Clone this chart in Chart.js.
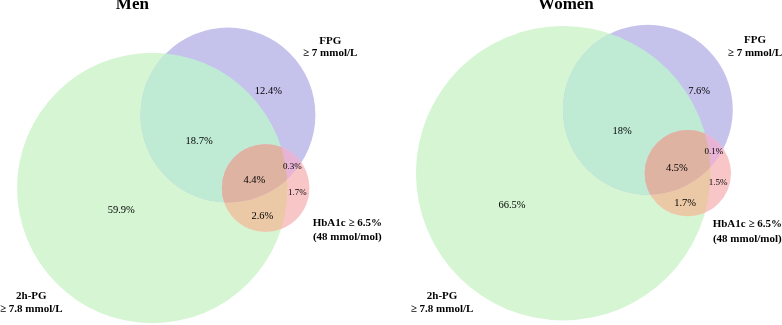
<!DOCTYPE html>
<html><head><meta charset="utf-8">
<script src="https://cdn.jsdelivr.net/npm/chart.js@4/dist/chart.umd.min.js"></script>
<style>
html,body{margin:0;padding:0;background:#fff;overflow:hidden;}
#wrap{display:flex;width:782px;height:325px;}
.panel{position:relative;width:391px;height:325px;}
canvas{display:block;}
</style></head><body>
<div id="wrap"><div class="panel"><canvas id="men" width="391" height="325"></canvas></div><div class="panel"><canvas id="women" width="391" height="325"></canvas></div></div>
<script>
// ---------------- DATA ----------------
const panelTitles = ['Men', 'Women'];
const setKeys = ['G', 'F', 'H']; // 2h-PG, FPG, HbA1c
const setLabelLines = [['2h-PG', '\u2265 7.8 mmol/L'], ['FPG', '\u2265 7 mmol/L'], ['HbA1c \u2265 6.5%', '(48 mmol/mol)']];
const regionKeys = ['G', 'F', 'H', 'GF', 'GH', 'FH', 'GFH'];
const menRegions = [59.9, 12.4, 1.7, 18.7, 2.6, 0.3, 4.4];
const womenRegions = [66.5, 7.6, 1.5, 18, 1.7, 0.1, 4.5];

// ---------------- LAYOUT / STYLE ----------------
const regionColors = {G: '#d5f5d3', F: '#c5c3ec', H: '#f9c6c8', GF: '#bfebd5', GH: '#ecc9a6', FH: '#e8b4d6', GFH: '#deb3a2'};
const smallRegions = ['H', 'FH'];
const panels = [
  { id: 'men', regions: menRegions, title: panelTitles[0], pxPerUnit: 25.9, origin: [152.3, 188],
    titlePos: [-0.77, 7.07],
    regionLabelPos: {G: [-1.20, -0.85], F: [4.48, 3.75], H: [5.60, -0.19], GF: [1.81, 1.81], GH: [4.25, -1.08], FH: [5.41, 0.81], GFH: [3.94, 0.31]},
    setLabelPos: [[-4.67, -4.17, -4.67], [6.87, 5.68, 5.21], [7.53, -1.35, -1.89]] },
  { id: 'women', regions: womenRegions, title: panelTitles[1], pxPerUnit: 27.4, origin: [172.2, 173.2],
    titlePos: [0.10, 6.14],
    regionLabelPos: {G: [-1.87, -1.16], F: [4.96, 3.00], H: [5.65, -0.36], GF: [2.15, 1.54], GH: [4.45, -1.09], FH: [5.50, 0.77], GFH: [4.15, 0.19]},
    setLabelPos: [[-4.42, -4.48, -4.96], [7.0, 4.86, 4.39], [6.72, -1.86, -2.41]] }
];
const W = 391, H = 325;
const FONT = '"Liberation Serif", "Times New Roman", serif';

// ---------------- GEOMETRY FROM DATA ----------------
function setTotal(regions, key) {
  return regionKeys.reduce((s, k, i) => s + (k.includes(key) ? regions[i] : 0), 0);
}
function pairTotal(regions, a, b) {
  return regionKeys.reduce((s, k, i) => s + (k.includes(a) && k.includes(b) ? regions[i] : 0), 0);
}
function lensArea(r1, r2, d) {
  if (d >= r1 + r2) return 0;
  if (d <= Math.abs(r1 - r2)) return Math.PI * Math.min(r1, r2) ** 2;
  const a1 = Math.acos((d * d + r1 * r1 - r2 * r2) / (2 * d * r1));
  const a2 = Math.acos((d * d + r2 * r2 - r1 * r1) / (2 * d * r2));
  const k = Math.sqrt((-d + r1 + r2) * (d + r1 - r2) * (d - r1 + r2) * (d + r1 + r2));
  return r1 * r1 * a1 + r2 * r2 * a2 - 0.5 * k;
}
function solveDistance(r1, r2, area) {
  let lo = Math.abs(r1 - r2), hi = r1 + r2;
  for (let i = 0; i < 80; i++) {
    const mid = (lo + hi) / 2;
    if (lensArea(r1, r2, mid) > area) lo = mid; else hi = mid;
  }
  return (lo + hi) / 2;
}
function layout(regions) {
  const r = setKeys.map(k => Math.sqrt(setTotal(regions, k) / Math.PI));
  const dGF = solveDistance(r[0], r[1], pairTotal(regions, 'G', 'F'));
  const dGH = solveDistance(r[0], r[2], pairTotal(regions, 'G', 'H'));
  const dFH = solveDistance(r[1], r[2], pairTotal(regions, 'F', 'H'));
  const fx = (dGF * dGF - dFH * dFH + dGH * dGH) / (2 * dGH);
  const fy = Math.sqrt(Math.max(0, dGF * dGF - fx * fx));
  return { centers: [[0, 0], [fx, fy], [dGH, 0]], radii: r };
}

// ---------------- PLUGINS ----------------
const overlapPlugin = {
  id: 'overlaps',
  afterDatasetsDraw(chart) {
    const el = chart.getDatasetMeta(0).data;
    const ctx = chart.ctx;
    const circ = i => { ctx.beginPath(); ctx.arc(el[i].x, el[i].y, el[i].options.radius, 0, Math.PI * 2); };
    const fillIntersection = (idx, color) => {
      ctx.save();
      idx.forEach(i => { circ(i); ctx.clip(); });
      ctx.fillStyle = color;
      ctx.fillRect(0, 0, chart.width, chart.height);
      ctx.restore();
    };
    fillIntersection([0, 1], regionColors.GF);
    fillIntersection([0, 2], regionColors.GH);
    fillIntersection([1, 2], regionColors.FH);
    fillIntersection([0, 1, 2], regionColors.GFH);
  }
};
const textPlugin = {
  id: 'venntext',
  afterDraw(chart) {
    const p = chart.options.plugins.venntext;
    const xs = chart.scales.x, ys = chart.scales.y;
    const ctx = chart.ctx;
    const X = v => xs.getPixelForValue(v), Y = v => ys.getPixelForValue(v);
    ctx.save();
    ctx.fillStyle = '#000';
    ctx.textAlign = 'center';
    ctx.textBaseline = 'middle';
    ctx.font = 'bold 17px ' + FONT;
    ctx.fillText(p.title, X(p.titlePos[0]), Y(p.titlePos[1]));
    ctx.font = 'bold 11px ' + FONT;
    p.setLabelPos.forEach((pos, i) => {
      ctx.fillText(setLabelLines[i][0], X(pos[0]), Y(pos[1]));
      ctx.fillText(setLabelLines[i][1], X(pos[0]), Y(pos[2]));
    });
    regionKeys.forEach((k, i) => {
      ctx.font = (smallRegions.includes(k) ? '9px ' : '10.5px ') + FONT;
      const pos = p.regionLabelPos[k];
      ctx.fillText(p.regions[i] + '%', X(pos[0]), Y(pos[1]));
    });
    ctx.restore();
  }
};

// ---------------- CHARTS ----------------
panels.forEach(panel => {
  const geo = layout(panel.regions);
  const s = panel.pxPerUnit, ox = panel.origin[0], oy = panel.origin[1];
  new Chart(document.getElementById(panel.id), {
    type: 'scatter',
    data: {
      datasets: [{
        data: geo.centers.map(c => ({ x: c[0], y: c[1] })),
        showLine: false,
        pointBackgroundColor: setKeys.map(k => regionColors[k]),
        pointBorderWidth: 0,
        clip: false,
        pointRadius: ctx => {
          const xs = ctx.chart.scales.x;
          const v = Math.abs(xs.getPixelForValue(geo.radii[ctx.dataIndex]) - xs.getPixelForValue(0));
          return isFinite(v) ? v : 0;
        }
      }]
    },
    options: {
      responsive: false,
      animation: false,
      events: [],
      layout: { padding: 0, autoPadding: false },
      scales: {
        x: { type: 'linear', display: false, min: -ox / s, max: (W - ox) / s },
        y: { type: 'linear', display: false, min: (oy - H) / s, max: oy / s }
      },
      plugins: {
        legend: { display: false },
        tooltip: { enabled: false },
        venntext: { title: panel.title, titlePos: panel.titlePos, regionLabelPos: panel.regionLabelPos, setLabelPos: panel.setLabelPos, regions: panel.regions }
      }
    },
    plugins: [overlapPlugin, textPlugin]
  });
});
</script>
</body></html>
